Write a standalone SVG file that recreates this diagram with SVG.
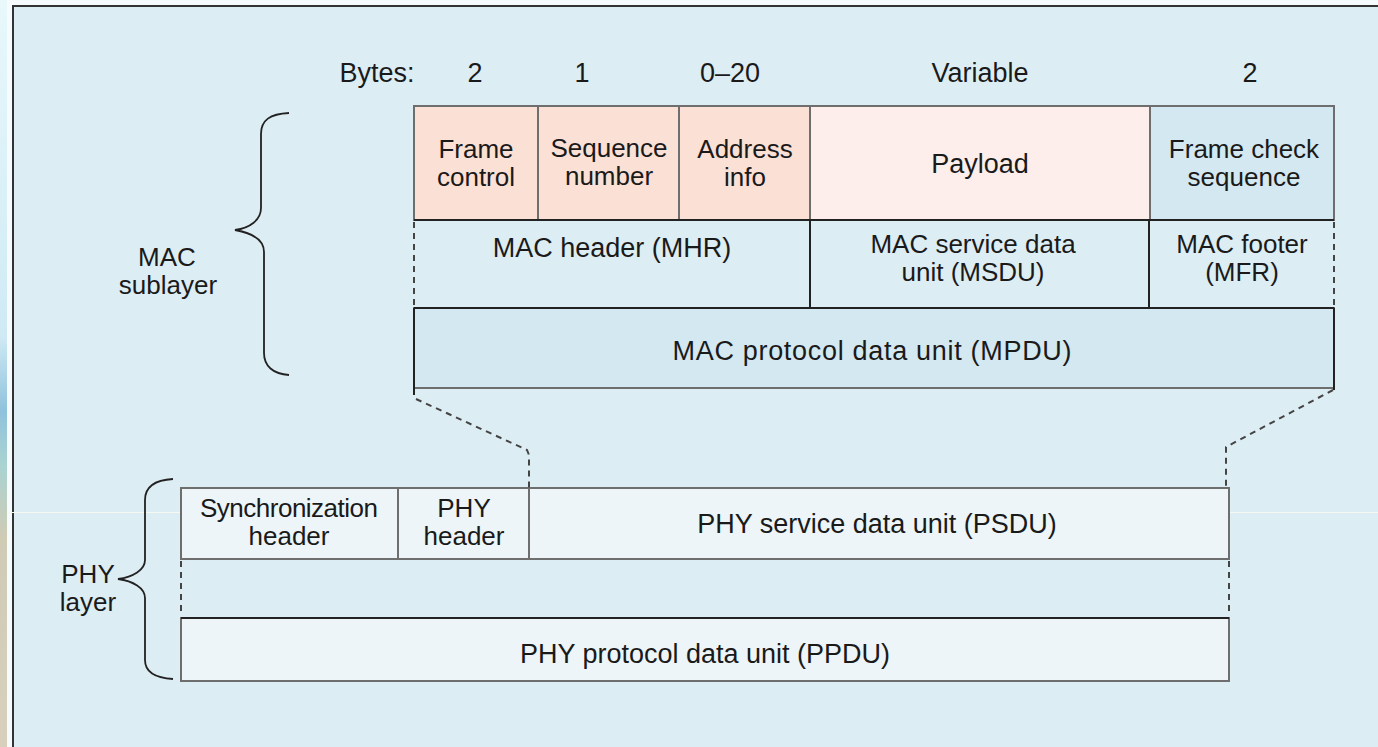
<svg xmlns="http://www.w3.org/2000/svg" width="1378" height="747" viewBox="0 0 1378 747">
<defs>
<linearGradient id="strip" x1="0" y1="0" x2="0" y2="1">
<stop offset="0" stop-color="#e8f8fb"/>
<stop offset="0.45" stop-color="#cfeaf4"/>
<stop offset="0.55" stop-color="#8fc2dc"/>
<stop offset="0.62" stop-color="#a9d3d2"/>
<stop offset="0.72" stop-color="#cfcbb5"/>
<stop offset="1" stop-color="#d8d0bd"/>
</linearGradient>
<style>
text{font-family:"Liberation Sans",Arial,sans-serif;font-size:27px;fill:#1a1a1a;text-anchor:middle}
text.two{font-size:26px}
.cell{stroke:#6e6e6e;stroke-width:2}
.dark{stroke:#222;stroke-width:2;fill:none}
.dash{stroke:#444;stroke-width:2;fill:none;stroke-dasharray:6 5}
.brace{stroke:#222;stroke-width:1.8;fill:none}
</style>
</defs>
<rect x="0" y="0" width="1378" height="747" fill="#f6fbfd"/>
<rect x="0" y="0" width="7" height="747" fill="url(#strip)"/>
<rect x="13" y="6" width="1380" height="760" fill="#ddedf4" stroke="#333" stroke-width="2"/>
<line x1="7" y1="512.5" x2="1378" y2="512.5" stroke="#f6f9f0" stroke-width="1"/>

<g id="bytes">
<text x="377" y="82">Bytes:</text>
<text x="475" y="82">2</text>
<text x="582" y="82">1</text>
<text x="730" y="82">0–20</text>
<text x="980" y="82">Variable</text>
<text x="1250" y="82">2</text>
</g>

<g id="frame-control">
<rect class="cell" x="414" y="106" width="124" height="114" fill="#fbe0d6"/>
<text class="two" x="476" y="158">Frame</text><text class="two" x="476" y="186">control</text>
</g>
<g id="sequence-number">
<rect class="cell" x="538" y="106" width="141" height="114" fill="#fbe0d6"/>
<text class="two" x="609" y="157">Sequence</text><text class="two" x="609" y="185">number</text>
</g>
<g id="address-info">
<rect class="cell" x="679" y="106" width="131" height="114" fill="#fbe0d6"/>
<text class="two" x="745" y="158">Address</text><text class="two" x="745" y="186">info</text>
</g>
<g id="payload">
<rect class="cell" x="810" y="106" width="340" height="114" fill="#fdeeeb"/>
<text x="980" y="173">Payload</text>
</g>
<g id="fcs">
<rect class="cell" x="1150" y="106" width="184" height="114" fill="#d4e8f1"/>
<text class="two" x="1244" y="158">Frame check</text><text class="two" x="1244" y="186">sequence</text>
</g>

<g id="mhr">
<text x="612" y="257">MAC header (MHR)</text>
</g>
<g id="msdu">
<text class="two" x="973" y="253">MAC service data</text><text class="two" x="973" y="281">unit (MSDU)</text>
</g>
<g id="mfr">
<text class="two" x="1242" y="253">MAC footer</text><text class="two" x="1242" y="281">(MFR)</text>
</g>
<g id="mpdu">
<rect class="cell" x="414" y="308" width="920" height="80" fill="#d4e8f1"/>
<text x="872" y="360" textLength="399">MAC protocol data unit (MPDU)</text>
</g>

<g id="mac-lines">
<line class="dark" x1="414" y1="220" x2="1334" y2="220"/>
<line class="dark" x1="810" y1="220" x2="810" y2="308"/>
<line class="dark" x1="1149" y1="220" x2="1149" y2="308"/>
<line class="dark" x1="414" y1="308" x2="1334" y2="308"/>
<line class="dash" x1="414" y1="222" x2="414" y2="306" stroke-dasharray="7 5" stroke="#222"/>
<line class="dash" x1="1334" y1="222" x2="1334" y2="306" stroke-dasharray="7 5" stroke="#888"/>
<line class="dark" x1="414" y1="308" x2="414" y2="395"/>
<line class="dark" x1="1334" y1="308" x2="1334" y2="390"/>
</g>

<g id="mac-sublayer">
<path class="brace" d="M289 113 C270 114 261 120 261 134 L261 208 C261 220 250 228 235 230 C252 233 264 240 264 252 L264 353 C264 366 273 374 289 375"/>
<text class="two" x="167" y="266">MAC</text>
<text class="two" x="168" y="294">sublayer</text>
</g>

<g id="sync-header">
<rect class="cell" x="181" y="488" width="217" height="71" fill="#edf5f8"/>
<text class="two" x="289" y="517" textLength="178">Synchronization</text><text class="two" x="289" y="545">header</text>
</g>
<g id="phy-header">
<rect class="cell" x="398" y="488" width="131" height="71" fill="#edf5f8"/>
<text class="two" x="464" y="517">PHY</text><text class="two" x="464" y="545">header</text>
</g>
<g id="psdu">
<rect class="cell" x="529" y="488" width="700" height="71" fill="#edf5f8"/>
<text x="877" y="533">PHY service data unit (PSDU)</text>
</g>
<g id="ppdu">
<rect class="cell" x="181" y="618" width="1048" height="63" fill="#edf5f8"/>
<line class="dark" x1="181" y1="618" x2="1229" y2="618"/>
<text x="705" y="663">PHY protocol data unit (PPDU)</text>
</g>
<g id="phy-lines">
<line class="dash" x1="181" y1="561" x2="181" y2="616" stroke-dasharray="7 5" stroke="#222"/>
<line class="dash" x1="1229" y1="561" x2="1229" y2="616" stroke-dasharray="7 5" stroke="#888"/>
</g>

<g id="phy-layer">
<path class="brace" d="M173 479 C156 480 145 486 145 500 L145 560 C145 570 133 577 118 579 C133 581 145 588 145 598 L145 660 C145 672 156 678 173 679"/>
<text class="two" x="88" y="583">PHY</text>
<text class="two" x="88" y="611">layer</text>
</g>

<g id="connectors">
<polyline class="dash" points="416,399 527,450 529,455 529,488"/>
<polyline class="dash" points="1333,390 1226,447 1226,488"/>
</g>
</svg>
